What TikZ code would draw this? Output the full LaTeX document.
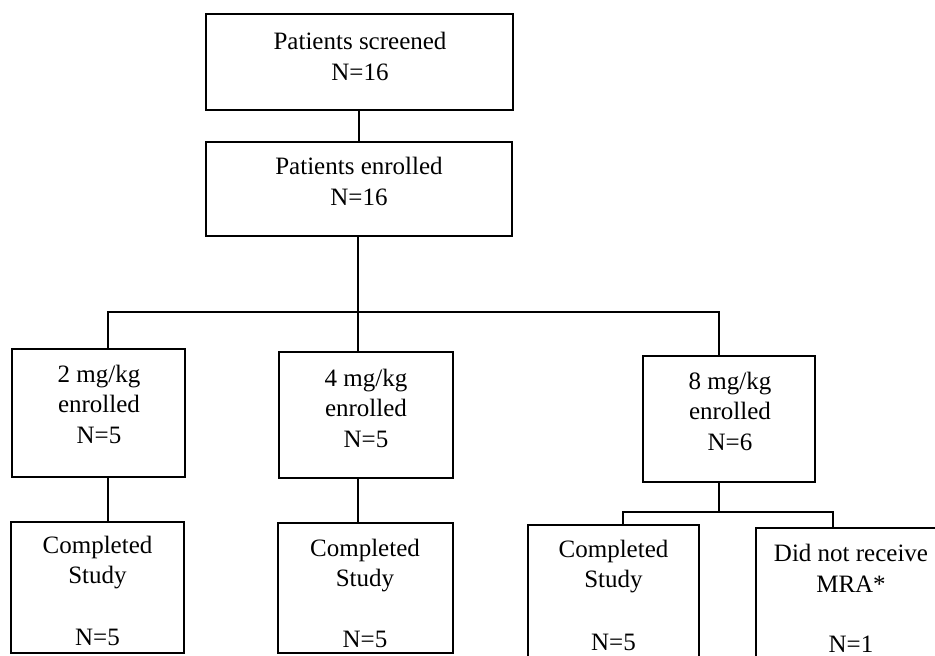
\documentclass[tikz,border=0pt]{standalone}
\usepackage{fontspec}
\setmainfont{Liberation Serif}
\begin{document}
\begin{tikzpicture}[x=1pt,y=-1pt,
  box/.style={draw=black, line width=1.5pt, rectangle, inner sep=0pt, outer sep=0pt},
  lbl/.style={anchor=base, align=center, inner sep=0pt, font=\fontsize{25}{30.5}\selectfont},
  wire/.style={draw=black, line width=1.5pt}]
\useasboundingbox (0,0) rectangle (935,656);
\clip (0,0) rectangle (935,656);
\fill[white] (0,0) rectangle (935,656);
% boxes
\node[box, minimum width=307pt, minimum height=96pt] (scr) at (359.5,62) {};
\node[box, minimum width=306pt, minimum height=94pt] (enr) at (359,189) {};
\node[box, minimum width=173pt, minimum height=128pt] (d2) at (98.5,413) {};
\node[box, minimum width=174pt, minimum height=126pt] (d4) at (366,415) {};
\node[box, minimum width=172pt, minimum height=126pt] (d8) at (729,419) {};
\node[box, minimum width=173pt, minimum height=131pt] (c2) at (97.5,587.5) {};
\node[box, minimum width=175pt, minimum height=130pt] (c4) at (365.5,588) {};
\node[box, minimum width=171pt, minimum height=145pt] (c8) at (613.5,597.5) {};
\node[box, minimum width=190pt, minimum height=142pt] (dnr) at (851,599) {};
% texts (anchored at the baseline of the last line)
\node[lbl] (tscr) at (360,80) {Patients screened\\N=16};
\node[lbl] (tenr) at (359,205) {Patients enrolled\\N=16};
\node[lbl] (td2) at (99,443) {2 mg/kg\\enrolled\\N=5};
\node[lbl] (td4) at (366,447) {4 mg/kg\\enrolled\\N=5};
\node[lbl] (td8) at (730,450) {8 mg/kg\\enrolled\\N=6};
\node[lbl] (tc2) at (97.5,645) {Completed\\Study\\[31pt]N=5};
\node[lbl] (tc4) at (365,647) {Completed\\Study\\[30pt]N=5};
\node[lbl] (tc8) at (613.5,650) {Completed\\Study\\[32pt]N=5};
\node[lbl] (tdnr) at (851,652) {Did not receive\\MRA*\\[29.5pt]N=1};
% junction coordinates
\coordinate (xa) at (359,0);
\coordinate (xe) at (358,0);
\coordinate (x2) at (108,0);
\coordinate (x8) at (719,0);
\coordinate (xc8) at (623,0);
\coordinate (xdn) at (833,0);
\coordinate (hy) at (0,312);
\coordinate (hy2) at (0,512);
% connectors
\draw[wire] (scr.south -| xa) -- (enr.north -| xa);
\draw[wire] (enr.south -| xe) -- (hy -| xe);
\draw[wire] (d2.north -| x2) -- (hy -| x2) -- (hy -| x8) -- (d8.north -| x8);
\draw[wire] (hy -| xe) -- (d4.north -| xe);
\draw[wire] (d2.south -| x2) -- (c2.north -| x2);
\draw[wire] (d4.south -| xe) -- (c4.north -| xe);
\draw[wire] (d8.south -| x8) -- (hy2 -| x8);
\draw[wire] (c8.north -| xc8) -- (hy2 -| xc8) -- (hy2 -| xdn) -- (dnr.north -| xdn);
\end{tikzpicture}
\end{document}
